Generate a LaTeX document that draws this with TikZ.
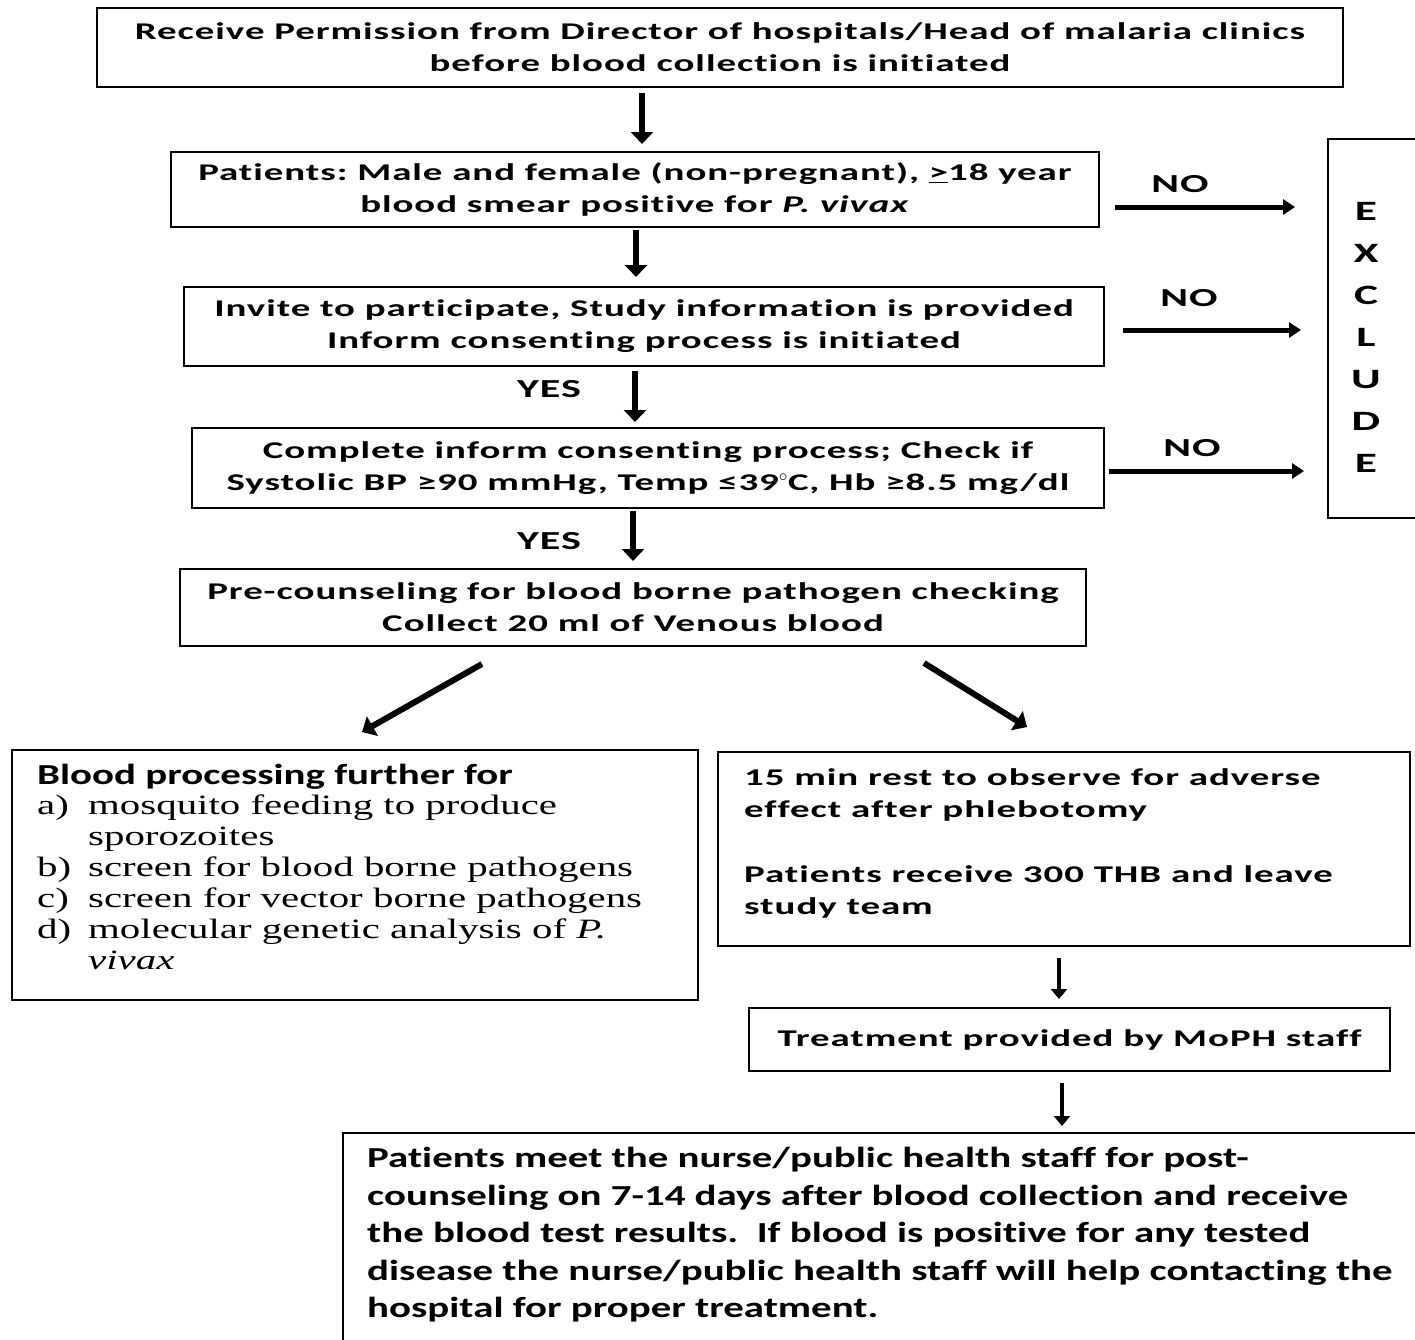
\documentclass[tikz,border=0pt]{standalone}
\usepackage{fontspec}
\usetikzlibrary{arrows.meta}
\frenchspacing
\newfontfamily\wfont{Carlito}[FakeStretch=1.62,LetterSpace=4,Ligatures=NoCommon]
\newfontfamily\cfont{Carlito}[FakeStretch=1.41,Ligatures=NoCommon]
\newfontfamily\gfont{Liberation Serif}[FakeStretch=1.46]
\tikzset{
  box/.style={draw, line width=2pt, inner sep=0pt},
  wtxt/.style={font=\wfont\bfseries\fontsize{24}{32}\selectfont, align=center},
  rtxt/.style={font=\wfont\bfseries\fontsize{24}{32.5}\selectfont, align=left},
  lbl/.style={font=\wfont\bfseries\fontsize{26}{30}\selectfont},
  varrow/.style={line width=6pt, -{Triangle[width=22pt,length=12pt]}},
  sarrow/.style={line width=4.5pt, -{Triangle[width=16pt,length=10pt]}},
  harrow/.style={line width=5pt, -{Triangle[width=15pt,length=12pt]}},
}
\begin{document}
\begin{tikzpicture}[x=1pt,y=-1pt]
\clip (0,0) rectangle (1415,1339);
\fill[white] (0,0) rectangle (1415,1339);
% boxes
\node[box, wtxt, minimum width=1246pt, minimum height=79pt] (b1) at (720,47.5)
  {Receive Permission from Director of hospitals/Head of malaria clinics\\before blood collection is initiated};
\node[box, wtxt, minimum width=928pt, minimum height=75pt] (b2) at (635,189.5)
  {Patients: Male and female (non-pregnant), \underline{>}18 year\\blood smear positive for \textit{P. vivax}};
\node[box, wtxt, minimum width=920pt, minimum height=79pt] (b3) at (644,326.5)
  {Invite to participate, Study information is provided\\Inform consenting process is initiated};
\node[box, wtxt, minimum width=912pt, minimum height=80pt] (b4) at (648,468)
  {Complete inform consenting process; Check if\\Systolic BP ≥90 mmHg, Temp ≤39$^\circ$C, Hb ≥8.5 mg/dl};
\node[box, wtxt, minimum width=906pt, minimum height=77pt] (b5) at (633,607.5)
  {Pre-counseling for blood borne pathogen checking\\Collect 20 ml of Venous blood};
\node[box, minimum width=100pt, minimum height=379pt] (ex) at (1378,328.5) {};
\node[font=\wfont\bfseries\fontsize{28}{42}\selectfont, align=center] (ext) at (1366,337)
  {E\\X\\C\\L\\U\\D\\E};
\node[box, minimum width=686pt, minimum height=250pt] (bL) at (355,875) {};
\node[box, minimum width=692pt, minimum height=194pt] (bR) at (1064,849) {};
\node[box, wtxt, minimum width=641pt, minimum height=63pt] (bT) at (1069.5,1039.5)
  {Treatment provided by MoPH staff};
\node[box, minimum width=1087pt, minimum height=230pt] (bB) at (886.5,1248) {};
% texts in left/right/bottom boxes
\node[rtxt, anchor=north west, inner sep=0pt] (tR) at (744,768)
  {15 min rest to observe for adverse\\effect after phlebotomy\\[32pt]Patients receive 300 THB and leave\\study team};
\node[font=\cfont\bfseries\fontsize{29}{31}\selectfont, anchor=north west, inner sep=0pt] (tLh) at (37,764)
  {Blood processing further for};
\node[font=\gfont\fontsize{28}{31}\selectfont, anchor=north west, inner sep=0pt, align=left] (tL) at (37,793)
  {\begin{tabular}{@{}p{51pt}@{}l@{}}
   a) & mosquito feeding to produce\\
      & sporozoites\\
   b) & screen for blood borne pathogens\\
   c) & screen for vector borne pathogens\\
   d) & molecular genetic analysis of \textit{P.}\\
      & \textit{vivax}
   \end{tabular}};
\node[font=\cfont\bfseries\fontsize{29}{37.5}\selectfont, anchor=north west, inner sep=0pt, align=left] (tB) at (367,1147)
  {Patients meet the nurse/public health staff for post-\\
   counseling on 7-14 days after blood collection and receive\\
   the blood test results.\ \ If blood is positive for any tested\\
   disease the nurse/public health staff will help contacting the\\
   hospital for proper treatment.};
% vertical arrows
\draw[varrow] ([xshift=-78pt,yshift=-5pt]b1.south) -- ([xshift=7pt,yshift=7pt]b2.north);
\draw[varrow] ([xshift=1pt,yshift=-2pt]b2.south) -- ([xshift=-8pt,yshift=9pt]b3.north);
\draw[varrow] ([xshift=-9pt,yshift=-4pt]b3.south) -- ([xshift=-13pt,yshift=5pt]b4.north);
\draw[varrow] ([xshift=-15pt,yshift=-2pt]b4.south) -- ([xshift=0pt,yshift=7pt]b5.north);
\node[lbl] (y1) at (549,389) {YES};
\node[lbl] (y2) at (549,541) {YES};
% diagonal arrows
\draw[varrow] ([xshift=-151pt,yshift=-17pt]b5.south) -- ([xshift=7pt,yshift=17pt]bL.north);
\draw[varrow] ([xshift=291pt,yshift=-16pt]b5.south) -- ([xshift=-37pt,yshift=24pt]bR.north);
% small arrows
\draw[sarrow] ([xshift=-5pt,yshift=-11pt]bR.south) -- ([xshift=-10.5pt,yshift=8pt]bT.north);
\draw[sarrow] ([xshift=-7.5pt,yshift=-11pt]bT.south) -- ([xshift=175.5pt,yshift=6pt]bB.north);
% NO arrows
\draw[harrow] ([xshift=15pt,yshift=-17.5pt]b2.east) -- ([xshift=-32pt,yshift=121.5pt]ex.west);
\draw[harrow] ([xshift=18pt,yshift=-3.5pt]b3.east) -- ([xshift=-26pt,yshift=-1.5pt]ex.west);
\draw[harrow] ([xshift=4pt,yshift=-3pt]b4.east) -- ([xshift=-23pt,yshift=-142.5pt]ex.west);
\node[lbl] (n1) at (1180,184) {NO};
\node[lbl] (n2) at (1189,298) {NO};
\node[lbl] (n3) at (1192,448) {NO};
\end{tikzpicture}
\end{document}
